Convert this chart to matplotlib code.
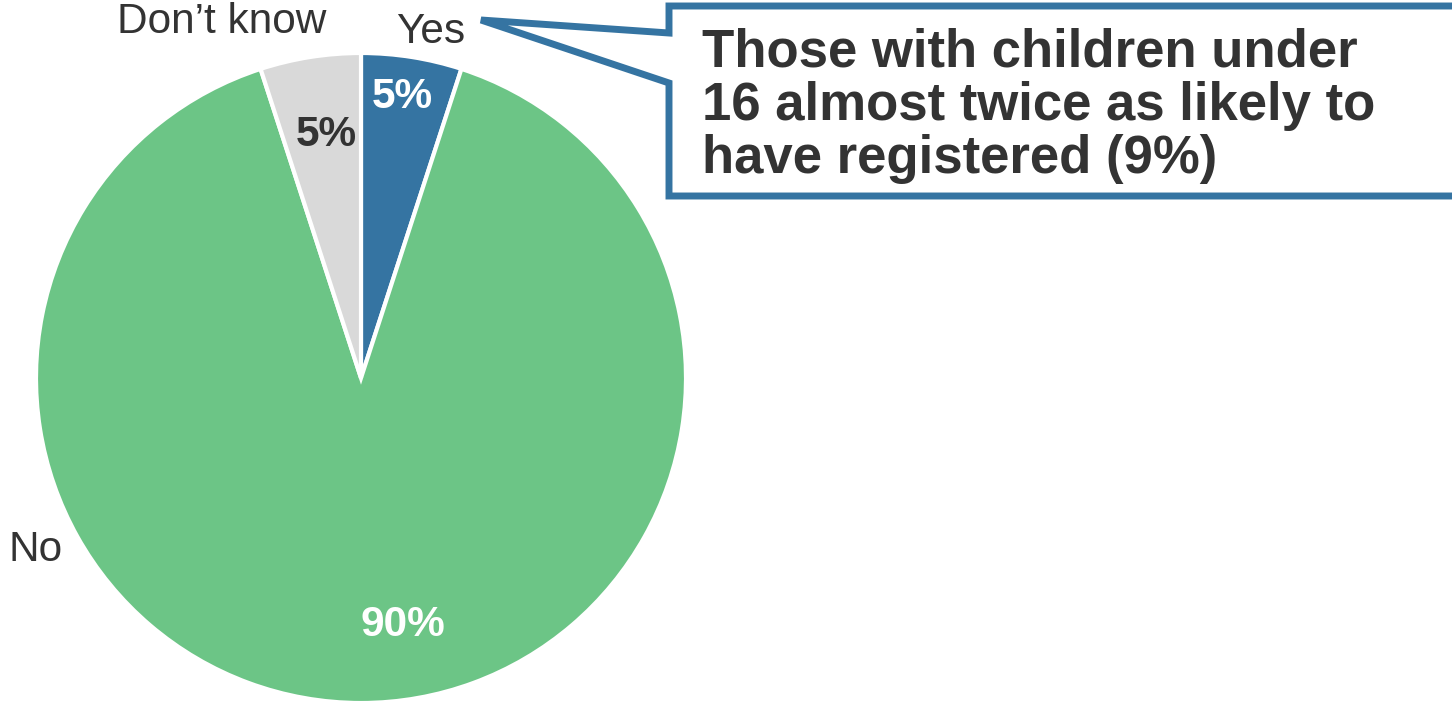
import matplotlib.pyplot as plt
from matplotlib.patches import Polygon

plt.rcParams['font.family'] = ['Liberation Sans', 'DejaVu Sans']

# survey answers, clockwise from 12 o'clock
answers = ['Yes', 'No', 'Don\u2019t know']
shares = [5, 90, 5]
slice_colors = ['#3574a2', '#6cc586', '#d9d9d9']
pct_colors = ['white', 'white', '#333333']
callout_text = 'Those with children under\n16 almost twice as likely to\nhave registered (9%)'

W, H = 1452, 701
fig = plt.figure(figsize=(W / 100, H / 100), dpi=100)

# pie axes: centre (361, 378) px, radius 325 px
cx, cy, r = 361, 378, 325
ax = fig.add_axes([(cx - r) / W, (H - cy - r) / H, 2 * r / W, 2 * r / H])
ax.pie(shares, colors=slice_colors, startangle=90, counterclock=False,
       radius=1, wedgeprops=dict(edgecolor='white', linewidth=3))
ax.set_xlim(-1, 1)
ax.set_ylim(-1, 1)
ax.set_axis_off()

# category names outside the pie
name_pos = {'Yes': (0.213, 1.065), 'No': (-1.000, -0.529),
            'Don\u2019t know': (-0.428, 1.095)}
for name in answers:
    x, y = name_pos[name]
    ax.text(x, y, name, ha='center', va='center', fontsize=30.5,
            color='#333333', clip_on=False)

# percentages inside the slices
pct_pos = [(0.126, 0.865), (0.129, -0.760), (-0.108, 0.747)]
for v, (x, y), c in zip(shares, pct_pos, pct_colors):
    ax.text(x, y, f'{v}%', ha='center', va='center', fontsize=30.5,
            fontweight='bold', color=c)


def fx(px):
    return px / W


def fy(py):
    return 1 - py / H


# callout box with a pointer towards the "Yes" label
box = [(669, 6), (1470, 6), (1470, 196), (669, 196), (669, 83),
       (481, 20), (669, 33)]
fig.patches.append(Polygon([(fx(a), fy(b)) for a, b in box], closed=True,
                           transform=fig.transFigure, facecolor='white',
                           edgecolor='#3574a2', linewidth=5,
                           joinstyle='miter'))
fig.text(fx(702), fy(106), callout_text, ha='left', va='center',
         fontsize=38, fontweight='bold', color='#333333', linespacing=1.08)

fig.savefig('out.png', dpi=100)
